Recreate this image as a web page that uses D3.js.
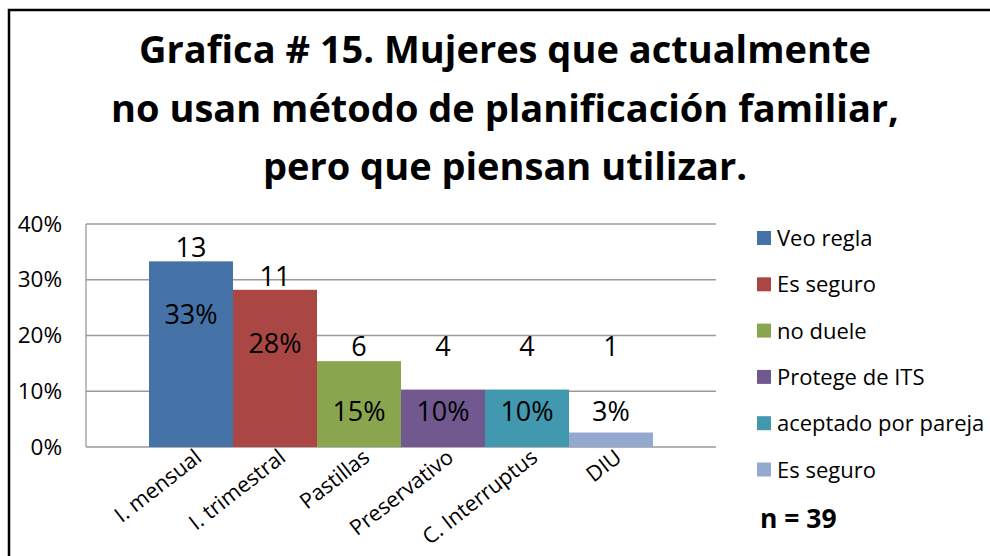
<!DOCTYPE html>
<html>
<head>
<meta charset="utf-8">
<script src="https://cdn.jsdelivr.net/npm/d3@7"></script>
<style>
  body { margin: 0; background: #fff; }
  svg { display: block; font-family: "Open Sans", "Noto Sans", sans-serif; }
</style>
</head>
<body>
<svg></svg>
<script>
var width = 990;
var height = 556;

var categories = ["I. mensual", "I. trimestral", "Pastillas", "Preservativo", "C. Interruptus", "DIU"];
var legendLabels = ["Veo regla", "Es seguro", "no duele", "Protege de ITS", "aceptado por pareja", "Es seguro"];
var counts = [13, 11, 6, 4, 4, 1];
var percents = [0.333, 0.282, 0.154, 0.103, 0.103, 0.026];
var percentLabels = ["33%", "28%", "15%", "10%", "10%", "3%"];
var yTicks = [0, 0.1, 0.2, 0.3, 0.4];
var colors = ["#4572a7", "#aa4643", "#89a54e", "#71588f", "#4198af", "#93a9cf"];
var titleLines = ["Grafica # 15. Mujeres que actualmente",
                  "no usan método de planificación familiar,",
                  "pero que piensan utilizar."];
var nText = "n = 39";

var plot = {left: 86, right: 716, top: 224, bottom: 447};

var svg = d3.select('svg')
    .attr('width', width)
    .attr('height', height);

svg.append('rect')
    .attr('width', width)
    .attr('height', height)
    .attr('fill', '#fff');

// outer frame (cut by the picture on the right and bottom)
svg.append('path')
    .attr('d', 'M9,' + height + 'V10H' + width)
    .attr('fill', 'none')
    .attr('stroke', '#000')
    .attr('stroke-width', 2.5);

svg.append('g')
    .selectAll('text')
    .data(titleLines)
    .enter()
    .append('text')
      .attr('x', 505)
      .attr('y', (d, i) => 63 + i * 58.5)
      .attr('text-anchor', 'middle')
      .attr('font-size', 38)
      .attr('font-weight', 'bold')
      .attr('fill', '#000')
      .text(d => d);

var x = d3.scaleBand()
    .domain(categories)
    .range([plot.left, plot.right])
    .paddingInner(0)
    .paddingOuter(0.75);

var y = d3.scaleLinear()
    .domain([0, 0.4])
    .range([plot.bottom, plot.top]);

// gridlines and plot frame
svg.append('g')
    .selectAll('line')
    .data(yTicks)
    .enter()
    .append('line')
      .attr('x1', plot.left)
      .attr('x2', plot.right)
      .attr('y1', d => y(d))
      .attr('y2', d => y(d))
      .attr('stroke', '#9a9a9a')
      .attr('stroke-width', 1.3);

svg.append('line')
    .attr('x1', plot.left)
    .attr('x2', plot.left)
    .attr('y1', plot.top)
    .attr('y2', plot.bottom)
    .attr('stroke', '#9a9a9a')
    .attr('stroke-width', 1.3);

var yAxis = d3.axisLeft(y)
    .tickValues(yTicks)
    .tickFormat(d3.format('.0%'))
    .tickSize(0)
    .tickPadding(24);

var yg = svg.append('g')
    .attr('transform', 'translate(' + plot.left + ',0)')
    .call(yAxis);
yg.select('.domain').remove();
yg.selectAll('text')
    .attr('font-size', 22.5)
    .attr('font-family', '"Open Sans", sans-serif')
    .attr('fill', '#000');

// bars
svg.append('g')
    .selectAll('rect')
    .data(categories)
    .enter()
    .append('rect')
      .attr('x', d => x(d))
      .attr('y', (d, i) => y(percents[i]))
      .attr('width', x.bandwidth())
      .attr('height', (d, i) => y(0) - y(percents[i]))
      .attr('fill', (d, i) => colors[i]);

// count labels above bars
svg.append('g')
    .selectAll('text')
    .data(categories)
    .enter()
    .append('text')
      .attr('x', d => x(d) + x.bandwidth() / 2)
      .attr('y', (d, i) => Math.min(y(percents[i]) - 15, y(0.183)) + 11)
      .attr('text-anchor', 'middle')
      .attr('font-size', 27)
      .attr('fill', '#000')
      .text((d, i) => counts[i]);

// percent labels
svg.append('g')
    .selectAll('text')
    .data(categories)
    .enter()
    .append('text')
      .attr('x', d => x(d) + x.bandwidth() / 2)
      .attr('y', (d, i) => Math.min(y(percents[i]) + 53, y(0.065)) + 10)
      .attr('text-anchor', 'middle')
      .attr('font-size', 27)
      .attr('fill', '#000')
      .text((d, i) => percentLabels[i]);

// rotated category labels
svg.append('g')
    .selectAll('text')
    .data(categories)
    .enter()
    .append('text')
      .attr('text-anchor', 'end')
      .attr('transform', d => 'translate(' + (x(d) + x.bandwidth() / 2 + 12) + ',' + (plot.bottom + 13) + ') rotate(-38)')
      .attr('font-size', 21.5)
      .attr('fill', '#000')
      .text(d => d);

// legend
var legend = svg.append('g')
    .selectAll('g')
    .data(legendLabels)
    .enter()
    .append('g')
      .attr('transform', (d, i) => 'translate(757,' + (238 + i * 46.3) + ')');

legend.append('rect')
    .attr('x', 0)
    .attr('y', -7)
    .attr('width', 14)
    .attr('height', 14)
    .attr('fill', (d, i) => colors[i]);

legend.append('text')
    .attr('x', 20)
    .attr('y', 8)
    .attr('font-size', 22)
    .attr('fill', '#000')
    .text(d => d);

svg.append('text')
    .attr('x', 760)
    .attr('y', 528)
    .attr('font-size', 26.5)
    .attr('font-weight', 'bold')
    .attr('fill', '#000')
    .text(nText);
</script>
</body>
</html>
